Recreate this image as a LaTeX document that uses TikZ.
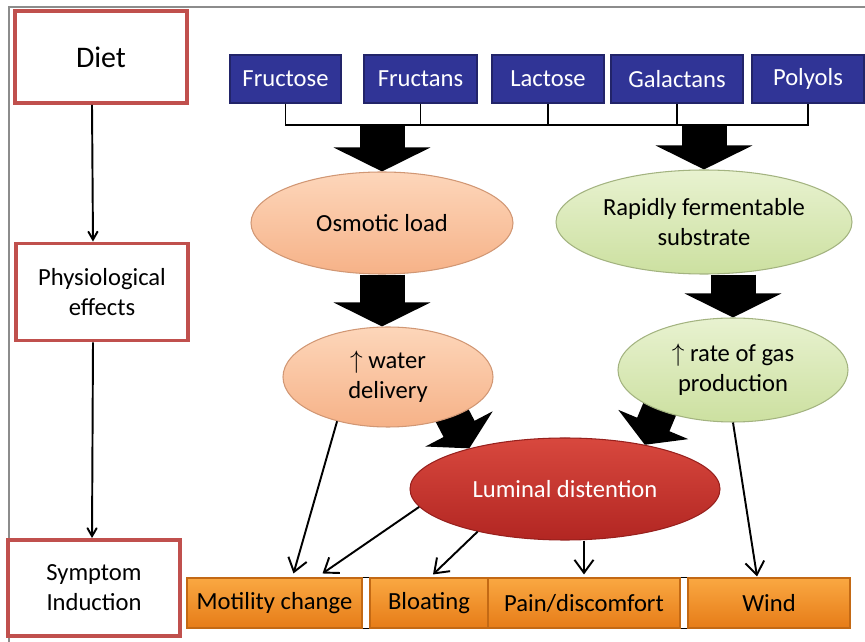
\documentclass[tikz,border=0pt]{standalone}
\usepackage{fontspec}
\setmainfont{Carlito}
\usepackage{xcolor}
\usetikzlibrary{arrows, arrows.meta, shapes, backgrounds}

\definecolor{stageRed}{RGB}{192,80,77}
\definecolor{sugarBlue}{RGB}{48,52,150}
\definecolor{osmoTop}{RGB}{253,214,186}
\definecolor{osmoBot}{RGB}{246,178,136}
\definecolor{fermTop}{RGB}{232,242,208}
\definecolor{fermBot}{RGB}{204,224,160}
\definecolor{lumTop}{RGB}{216,72,62}
\definecolor{lumBot}{RGB}{178,38,34}
\definecolor{sympTop}{RGB}{250,168,66}
\definecolor{sympBot}{RGB}{230,124,24}

\begin{document}
\begin{tikzpicture}[x=0.2mm, y=-0.2mm,
  stage/.style={rectangle, draw=stageRed, line width=2.2pt, fill=white,
    minimum width=34.4mm, align=center, inner sep=1pt,
    font=\fontsize{14}{17}\selectfont},
  %
  sugar/.style={rectangle, draw=sugarBlue!70!black, fill=sugarBlue,
    text=white, minimum height=9.6mm, inner sep=1pt,
    font=\fontsize{14}{17}\selectfont},
  %
  effect/.style={ellipse, inner sep=0pt, align=center,
    font=\fontsize{14}{17}\selectfont},
  osmo/.style={effect, draw=osmoBot!85!black, top color=osmoTop,
    bottom color=osmoBot},
  ferm/.style={effect, draw=fermBot!80!black, top color=fermTop,
    bottom color=fermBot},
  lumen/.style={effect, draw=lumBot!85!black, top color=lumTop,
    bottom color=lumBot, text=white},
  %
  symptom/.style={rectangle, draw=sympBot!85!black, top color=sympTop,
    bottom color=sympBot, minimum height=10mm, inner sep=1pt,
    font=\fontsize{14}{17}\selectfont},
  %
  block/.style={line width=9mm, -{Triangle[length=4.8mm, width=19.2mm]}},
  tilted/.style={line width=7mm, -{Triangle[length=4.4mm, width=15mm]}},
  link/.style={-{Straight Barb[length=2.6mm, width=3.8mm]}, line width=1.1pt},
  down/.style={->, >=angle 60, line width=1.1pt}
  ]

  \tikzset{every path/.style={line width=.6pt}}
  \useasboundingbox (0,0) rectangle (865,642);

  % outer frame
  \draw [black!45] (9,642) -- (9,7) -- (865,7);

  \begin{scope}
    % stages down the left side
    \node [stage, minimum height=18.4mm, font=\fontsize{17}{20}\selectfont]
      (diet) at (101,57) {Diet};
    \node [stage, minimum height=19.4mm] (physio) at (102,292)
      {Physiological\\effects};
    \node [stage, minimum height=19.2mm] (induct) at (94,588)
      {Symptom\\Induction};
    %%%%%%%%%%%%%%%%%%%%%%%%%%%%%%%
    \node [sugar, minimum width=22.2mm] (fructose) at (285.5,79) {Fructose};
    \node [sugar, minimum width=22.6mm] (fructans) at (420.5,79) {Fructans};
    \node [sugar, minimum width=22.4mm] (lactose) at (548,79) {Lactose};
    \node [sugar, minimum width=26.4mm] (galactans) at (677,79) {Galactans};
    \node [sugar, minimum width=22.4mm] (polyols) at (808,79) {Polyols};
    %%%%%%%%%%%%%%%%%%%%%%%%%%%%%%%
    \node [osmo, minimum width=52.4mm, minimum height=20.4mm] (osmotic)
      at (382,223) {Osmotic load};
    \node [ferm, minimum width=59.2mm, minimum height=20.8mm] (rapid)
      at (704,222) {Rapidly fermentable\\substrate};
    \node [osmo, minimum width=42mm, minimum height=20mm] (water)
      at (388,377) {$\uparrow$ water\\delivery};
    \node [ferm, minimum width=46mm, minimum height=20.8mm] (gas)
      at (733,370) {$\uparrow$ rate of gas\\production};
    \node [lumen, minimum width=62mm, minimum height=20.4mm] (distend)
      at (565,489) {Luminal distention};
    %%%%%%%%%%%%%%%%%%%%%%%%%%%%%%%
    \node [symptom, minimum width=35mm] (motility) at (274.5,603)
      {Motility change};
    \node [symptom, minimum width=23.6mm] (bloating) at (429,603) {Bloating};
    \node [symptom, minimum width=38.4mm] (pain) at (584,603)
      {Pain/discomfort};
    \node [symptom, minimum width=32.4mm] (wind) at (769,603) {Wind};
  \end{scope}

  \coordinate (busl) at (288,125);
  \coordinate (busr) at (808,125);

  \begin{scope}[on background layer]
    \draw [block] (osmotic.north |- busl) -- (osmotic.north);
    \draw [block] (rapid.north |- busl) -- (rapid.north);
    \draw [block] (osmotic.south) -- (osmotic.south |- water.north);
    \draw [block] (gas.north |- rapid.south) -- (gas.north);
    \draw [tilted] ([shift={(-22,-42)}]distend.157) -- (distend.157);
    \draw [tilted] ([shift={(18,-43)}]distend.29) -- (distend.29);
    \draw (motility.north west) rectangle (wind.south east);
  \end{scope}

  \begin{scope}
    % stage arrows
    \draw [down] ([xshift=-1.8mm]diet.south) -- ([xshift=-1.8mm]physio.north);
    \draw [down] ([xshift=-1.8mm]physio.south) -- ([xshift=-0.4mm]induct.north);
    % sugars joined by a bus
    \draw (fructose.south) |- (busl) -- (busr) -- (polyols.south);
    \foreach \s in {fructans, lactose, galactans}
      \draw (\s.south) -- (\s.south |- busl);
    % into the symptoms
    \draw [link] (water.221) -- ([shift={(19,-4)}]motility.north);
    \draw [link] (distend.187) -- ([shift={(48,-4)}]motility.north);
    \draw [link] (distend.206) -- ([shift={(4,-3)}]bloating.north);
    \draw [link] (distend.south -| pain.north) -- ([yshift=0.6mm]pain.north);
    \draw [link] (gas.south) -- ([shift={(-12,-1)}]wind.north);
  \end{scope}

\end{tikzpicture}
\end{document}
